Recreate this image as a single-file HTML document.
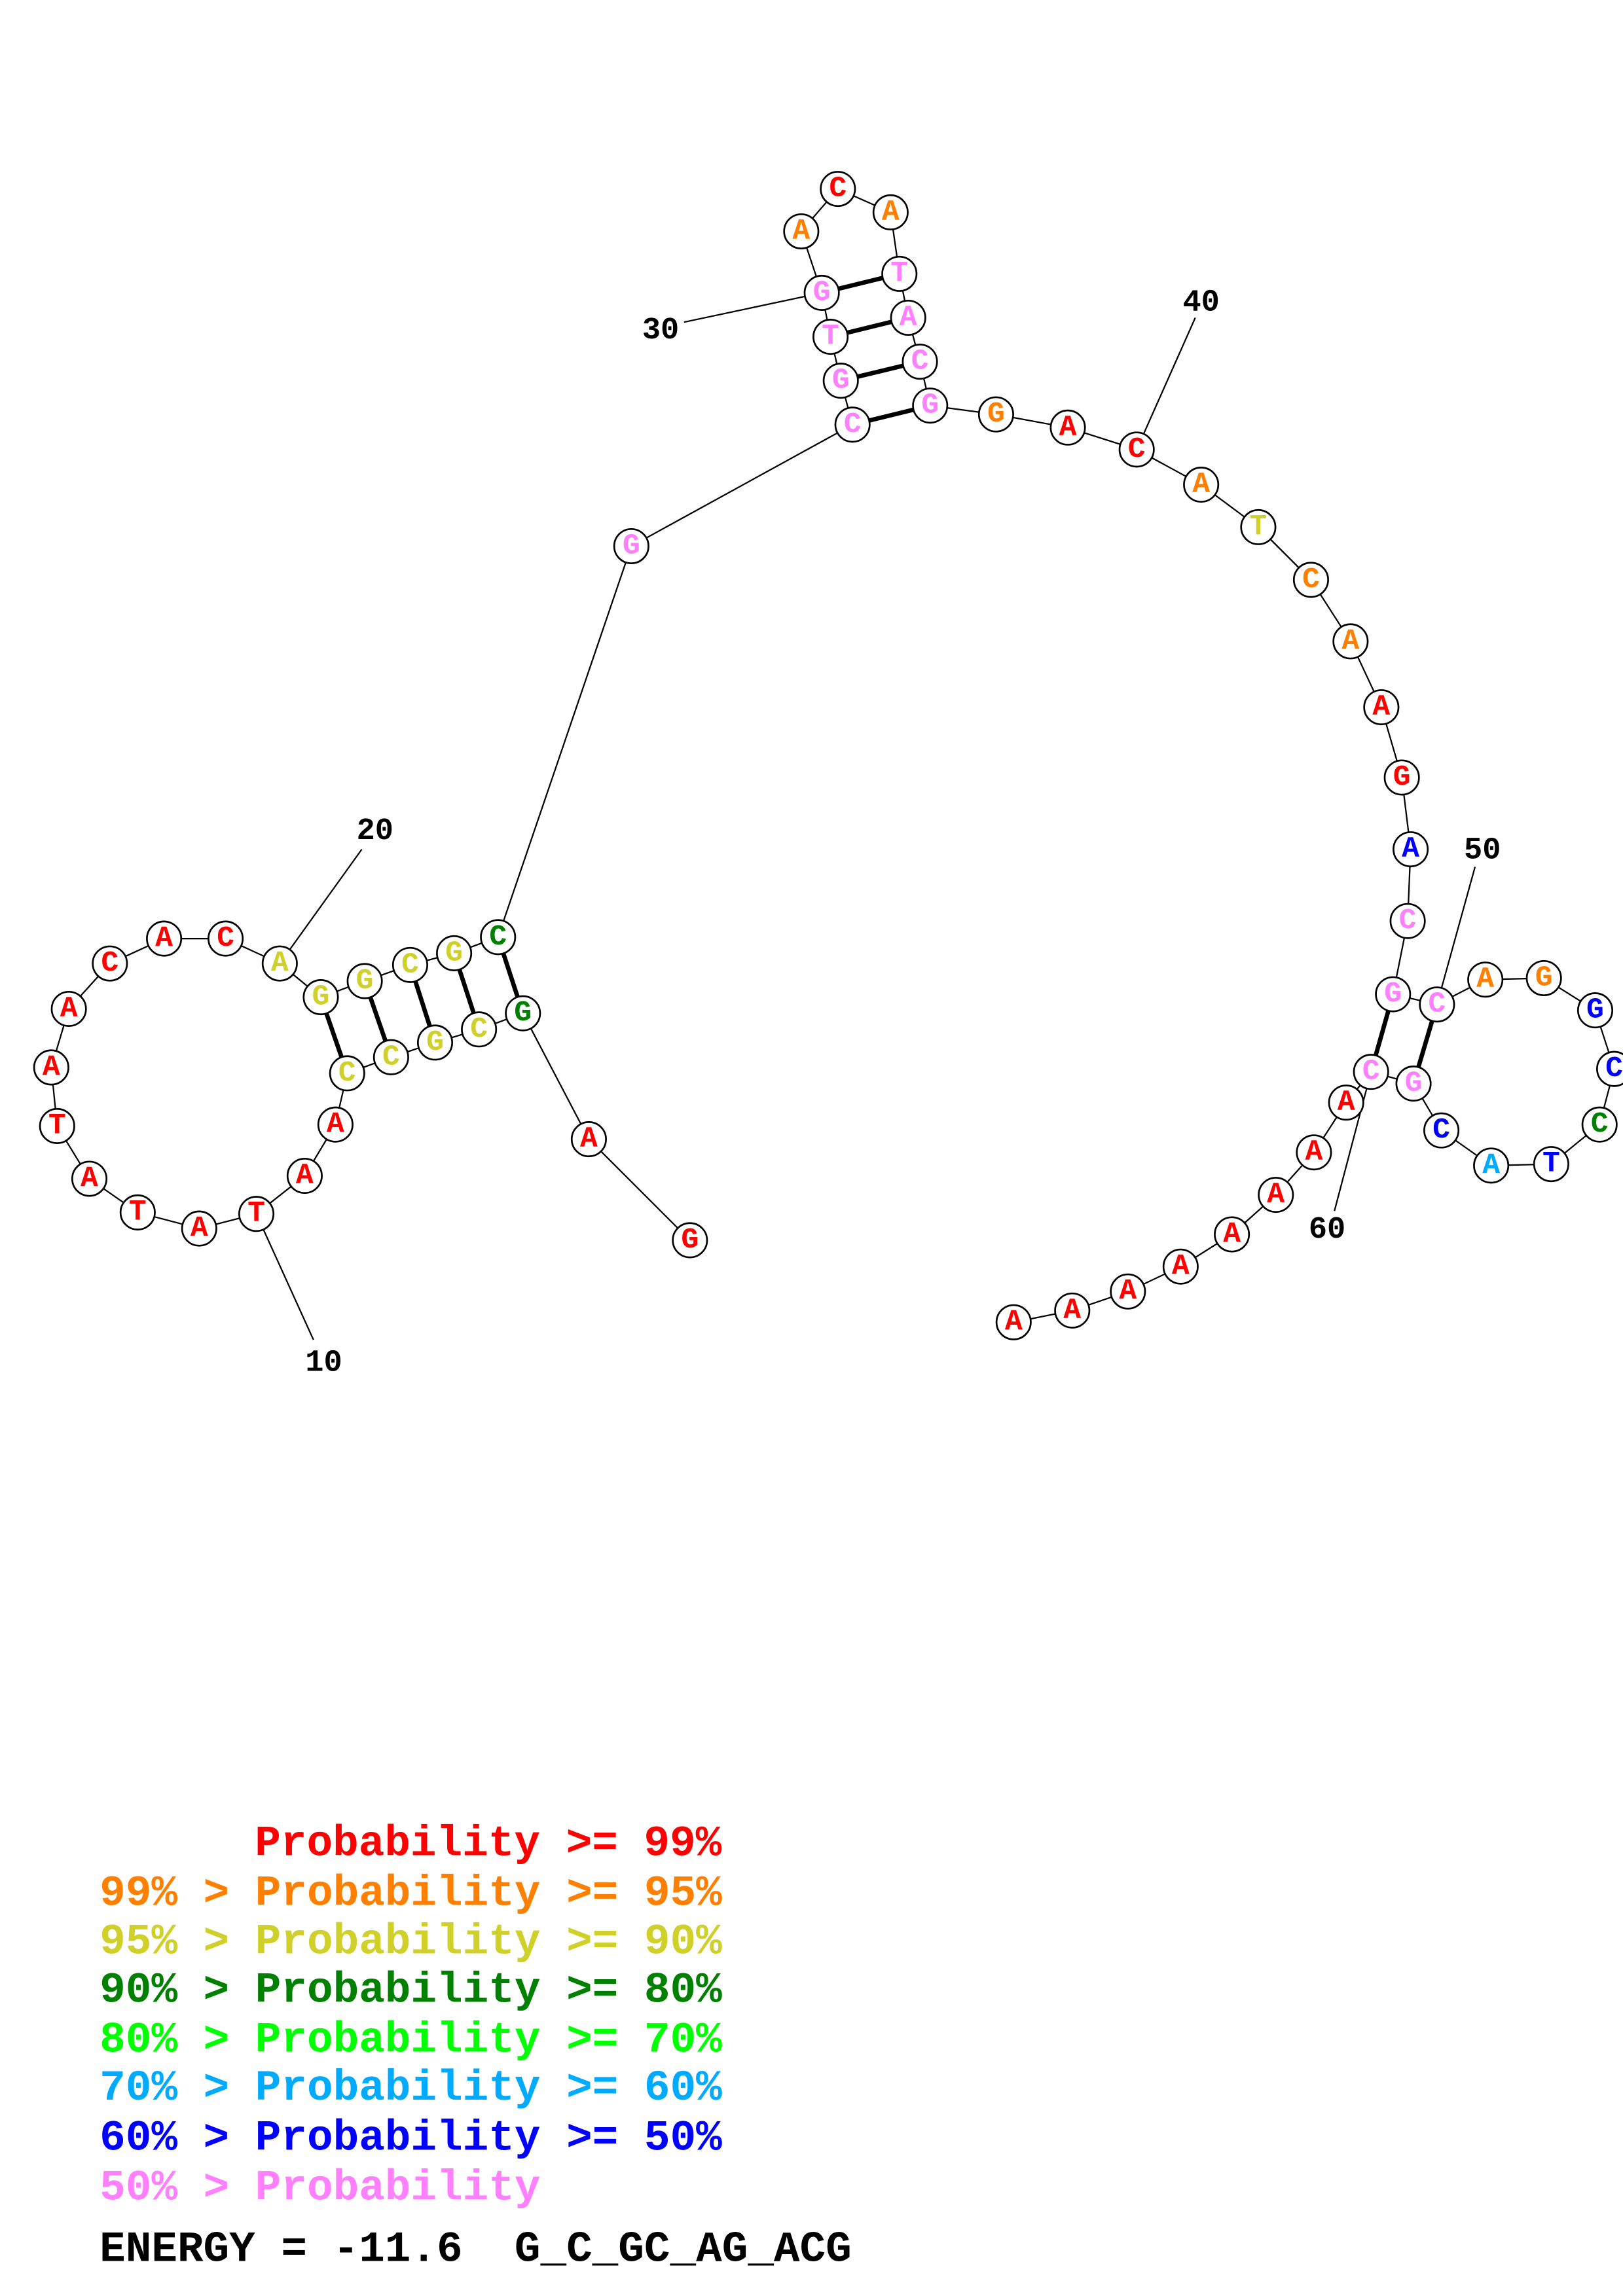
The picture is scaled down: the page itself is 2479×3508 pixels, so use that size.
<!DOCTYPE html>
<html><head><meta charset="utf-8"><style>
html,body{margin:0;padding:0;background:#fff;}
svg{display:block;}
.n circle{fill:#fff;stroke:#000;stroke-width:1.2;}
.n text{font-family:"Liberation Mono",monospace;font-weight:bold;font-size:20px;text-anchor:middle;dominant-baseline:central;}
.num{font-family:"Liberation Mono",monospace;font-weight:bold;font-size:21px;fill:#000;text-anchor:middle;dominant-baseline:central;}
.leg text{font-family:"Liberation Mono",monospace;font-weight:bold;font-size:29.5px;white-space:pre;}
.r{fill:#ff0000}.o{fill:#ff8000}.y{fill:#d0d02a}.dg{fill:#008000}.lg{fill:#00ff00}.lb{fill:#00aaff}.b{fill:#0000ff}.p{fill:#ff80ff}.k{fill:#000}
</style></head><body>
<svg width="2479" height="3508" viewBox="0 0 1108 1568" preserveAspectRatio="none" xmlns="http://www.w3.org/2000/svg">
<polyline fill="none" stroke="#000" stroke-width="1" points="471,847 402,778 357,692 327,703 297,712 267,722 237,733 229,768 208,803 175,829 136,839 94,828 61,805 39,769 35,729 47,689 75,658 112,641 154,641 191,658 219,681 249,670 280,659 310,651 340,640 431,373 582,290 574,260 567,230 561,200 547,158 572,129 608,145 614,187 620,217 628,247 635,277 680,283 729,292 776,307 820,331 859,360 895,396 922,438 943,483 957,531 963,580 961,629 951,679 981,686 1014,669 1054,668 1089,690 1102,730 1092,768 1059,795 1018,796 984,772 965,740 936,732 919,753 897,787 871,816 841,843 806,865 770,882 732,895 692,903"/>
<g stroke="#000" stroke-width="3">
<line x1="237" y1="733" x2="219" y2="681"/><line x1="267" y1="722" x2="249" y2="670"/><line x1="297" y1="712" x2="280" y2="659"/><line x1="327" y1="703" x2="310" y2="651"/><line x1="357" y1="692" x2="340" y2="640"/>
<line x1="582" y1="290" x2="635" y2="277"/><line x1="574" y1="260" x2="628" y2="247"/><line x1="567" y1="230" x2="620" y2="217"/><line x1="561" y1="200" x2="614" y2="187"/>
<line x1="951" y1="679" x2="936" y2="732"/><line x1="981" y1="686" x2="965" y2="740"/>
</g>
<g stroke="#000" stroke-width="1">
<line x1="175" y1="829" x2="214" y2="915"/><line x1="191" y1="658" x2="247" y2="580"/><line x1="561" y1="200" x2="467" y2="220"/><line x1="776" y1="307" x2="816" y2="217"/><line x1="981" y1="686" x2="1007" y2="592"/><line x1="936" y1="732" x2="911" y2="827"/>
</g>
<text class="num" x="221" y="931">10</text><text class="num" x="256" y="568">20</text><text class="num" x="451" y="226">30</text><text class="num" x="820" y="207">40</text><text class="num" x="1012" y="581">50</text><text class="num" x="906" y="840">60</text>
<g class="n">
<circle cx="471" cy="847" r="11.7"/><text class="r" x="471" y="847">G</text>
<circle cx="402" cy="778" r="11.7"/><text class="r" x="402" y="778">A</text>
<circle cx="357" cy="692" r="11.7"/><text class="dg" x="357" y="692">G</text>
<circle cx="327" cy="703" r="11.7"/><text class="y" x="327" y="703">C</text>
<circle cx="297" cy="712" r="11.7"/><text class="y" x="297" y="712">G</text>
<circle cx="267" cy="722" r="11.7"/><text class="y" x="267" y="722">C</text>
<circle cx="237" cy="733" r="11.7"/><text class="y" x="237" y="733">C</text>
<circle cx="229" cy="768" r="11.7"/><text class="r" x="229" y="768">A</text>
<circle cx="208" cy="803" r="11.7"/><text class="r" x="208" y="803">A</text>
<circle cx="175" cy="829" r="11.7"/><text class="r" x="175" y="829">T</text>
<circle cx="136" cy="839" r="11.7"/><text class="r" x="136" y="839">A</text>
<circle cx="94" cy="828" r="11.7"/><text class="r" x="94" y="828">T</text>
<circle cx="61" cy="805" r="11.7"/><text class="r" x="61" y="805">A</text>
<circle cx="39" cy="769" r="11.7"/><text class="r" x="39" y="769">T</text>
<circle cx="35" cy="729" r="11.7"/><text class="r" x="35" y="729">A</text>
<circle cx="47" cy="689" r="11.7"/><text class="r" x="47" y="689">A</text>
<circle cx="75" cy="658" r="11.7"/><text class="r" x="75" y="658">C</text>
<circle cx="112" cy="641" r="11.7"/><text class="r" x="112" y="641">A</text>
<circle cx="154" cy="641" r="11.7"/><text class="r" x="154" y="641">C</text>
<circle cx="191" cy="658" r="11.7"/><text class="y" x="191" y="658">A</text>
<circle cx="219" cy="681" r="11.7"/><text class="y" x="219" y="681">G</text>
<circle cx="249" cy="670" r="11.7"/><text class="y" x="249" y="670">G</text>
<circle cx="280" cy="659" r="11.7"/><text class="y" x="280" y="659">C</text>
<circle cx="310" cy="651" r="11.7"/><text class="y" x="310" y="651">G</text>
<circle cx="340" cy="640" r="11.7"/><text class="dg" x="340" y="640">C</text>
<circle cx="431" cy="373" r="11.7"/><text class="p" x="431" y="373">G</text>
<circle cx="582" cy="290" r="11.7"/><text class="p" x="582" y="290">C</text>
<circle cx="574" cy="260" r="11.7"/><text class="p" x="574" y="260">G</text>
<circle cx="567" cy="230" r="11.7"/><text class="p" x="567" y="230">T</text>
<circle cx="561" cy="200" r="11.7"/><text class="p" x="561" y="200">G</text>
<circle cx="547" cy="158" r="11.7"/><text class="o" x="547" y="158">A</text>
<circle cx="572" cy="129" r="11.7"/><text class="r" x="572" y="129">C</text>
<circle cx="608" cy="145" r="11.7"/><text class="o" x="608" y="145">A</text>
<circle cx="614" cy="187" r="11.7"/><text class="p" x="614" y="187">T</text>
<circle cx="620" cy="217" r="11.7"/><text class="p" x="620" y="217">A</text>
<circle cx="628" cy="247" r="11.7"/><text class="p" x="628" y="247">C</text>
<circle cx="635" cy="277" r="11.7"/><text class="p" x="635" y="277">G</text>
<circle cx="680" cy="283" r="11.7"/><text class="o" x="680" y="283">G</text>
<circle cx="729" cy="292" r="11.7"/><text class="r" x="729" y="292">A</text>
<circle cx="776" cy="307" r="11.7"/><text class="r" x="776" y="307">C</text>
<circle cx="820" cy="331" r="11.7"/><text class="o" x="820" y="331">A</text>
<circle cx="859" cy="360" r="11.7"/><text class="y" x="859" y="360">T</text>
<circle cx="895" cy="396" r="11.7"/><text class="o" x="895" y="396">C</text>
<circle cx="922" cy="438" r="11.7"/><text class="o" x="922" y="438">A</text>
<circle cx="943" cy="483" r="11.7"/><text class="r" x="943" y="483">A</text>
<circle cx="957" cy="531" r="11.7"/><text class="r" x="957" y="531">G</text>
<circle cx="963" cy="580" r="11.7"/><text class="b" x="963" y="580">A</text>
<circle cx="961" cy="629" r="11.7"/><text class="p" x="961" y="629">C</text>
<circle cx="951" cy="679" r="11.7"/><text class="p" x="951" y="679">G</text>
<circle cx="981" cy="686" r="11.7"/><text class="p" x="981" y="686">C</text>
<circle cx="1014" cy="669" r="11.7"/><text class="o" x="1014" y="669">A</text>
<circle cx="1054" cy="668" r="11.7"/><text class="o" x="1054" y="668">G</text>
<circle cx="1089" cy="690" r="11.7"/><text class="b" x="1089" y="690">G</text>
<circle cx="1102" cy="730" r="11.7"/><text class="b" x="1102" y="730">C</text>
<circle cx="1092" cy="768" r="11.7"/><text class="dg" x="1092" y="768">C</text>
<circle cx="1059" cy="795" r="11.7"/><text class="b" x="1059" y="795">T</text>
<circle cx="1018" cy="796" r="11.7"/><text class="lb" x="1018" y="796">A</text>
<circle cx="984" cy="772" r="11.7"/><text class="b" x="984" y="772">C</text>
<circle cx="965" cy="740" r="11.7"/><text class="p" x="965" y="740">G</text>
<circle cx="936" cy="732" r="11.7"/><text class="p" x="936" y="732">C</text>
<circle cx="919" cy="753" r="11.7"/><text class="r" x="919" y="753">A</text>
<circle cx="897" cy="787" r="11.7"/><text class="r" x="897" y="787">A</text>
<circle cx="871" cy="816" r="11.7"/><text class="r" x="871" y="816">A</text>
<circle cx="841" cy="843" r="11.7"/><text class="r" x="841" y="843">A</text>
<circle cx="806" cy="865" r="11.7"/><text class="r" x="806" y="865">A</text>
<circle cx="770" cy="882" r="11.7"/><text class="r" x="770" y="882">A</text>
<circle cx="732" cy="895" r="11.7"/><text class="r" x="732" y="895">A</text>
<circle cx="692" cy="903" r="11.7"/><text class="r" x="692" y="903">A</text>
</g>
<g class="leg">
<text class="r" x="174" y="1267">Probability &gt;= 99%</text>
<text class="o" x="68" y="1301">99% &gt; Probability &gt;= 95%</text>
<text class="y" x="68" y="1334">95% &gt; Probability &gt;= 90%</text>
<text class="dg" x="68" y="1367">90% &gt; Probability &gt;= 80%</text>
<text class="lg" x="68" y="1401">80% &gt; Probability &gt;= 70%</text>
<text class="lb" x="68" y="1434">70% &gt; Probability &gt;= 60%</text>
<text class="b" x="68" y="1468">60% &gt; Probability &gt;= 50%</text>
<text class="p" x="68" y="1502">50% &gt; Probability</text>
<text class="k" x="68" y="1544">ENERGY = -11.6  G_C_GC_AG_ACG</text>
</g>
</svg>
</body></html>
